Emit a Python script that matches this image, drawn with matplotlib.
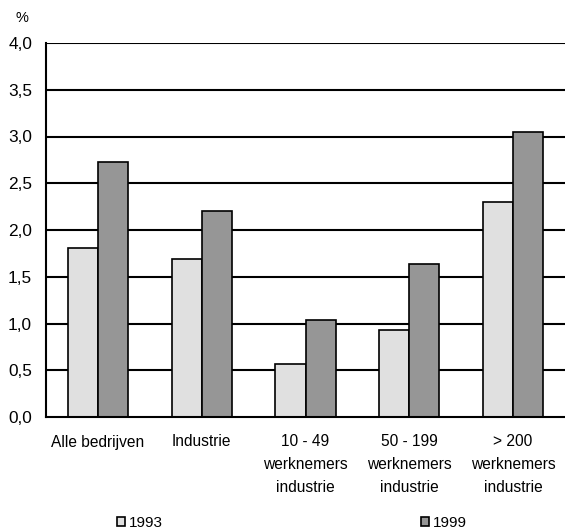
import matplotlib
matplotlib.use("Agg")
import matplotlib.pyplot as plt
import numpy as np

plt.rcParams['font.family'] = ['Liberation Sans', 'DejaVu Sans']

categories = ["Alle bedrijven", "Industrie", "10 - 49\nwerknemers\nindustrie",
              "50 - 199\nwerknemers\nindustrie", "> 200\nwerknemers\nindustrie"]
series_names = ["1993", "1999"]
values_1993 = [1.81, 1.69, 0.57, 0.93, 2.30]
values_1999 = [2.73, 2.20, 1.04, 1.64, 3.05]
y_ticks = [0.0, 0.5, 1.0, 1.5, 2.0, 2.5, 3.0, 3.5, 4.0]
y_tick_labels = ["0,0", "0,5", "1,0", "1,5", "2,0", "2,5", "3,0", "3,5", "4,0"]

W, H = 565, 529
fig = plt.figure(figsize=(W / 100, H / 100), dpi=100)
ax = fig.add_axes([46 / W, (H - 417) / H, (W - 46) / W + 0.01, 374 / H])

x = np.arange(len(categories))
bw = 0.29
b1 = ax.bar(x - bw / 2, values_1993, bw, color="#e0e0e0", edgecolor="black",
            linewidth=1.2, zorder=3, label=series_names[0])
b2 = ax.bar(x + bw / 2, values_1999, bw, color="#969696", edgecolor="black",
            linewidth=1.2, zorder=3, label=series_names[1])

ax.set_ylim(0, 4.0)
ax.set_xlim(-0.5, 4.5 + 0.01 * W / 104)
ax.set_yticks(y_ticks)
ax.set_yticklabels(y_tick_labels, fontsize=12.4)
ax.set_xticks(x)
ax.set_xticklabels(categories, fontsize=11.2, linespacing=1.63)
ax.tick_params(axis="y", length=0, pad=10)
ax.tick_params(axis="x", length=0, pad=12.6)

for yv in y_ticks[1:]:
    ax.axhline(yv, color="black", linewidth=1.5, zorder=1)

for s in ["top", "right"]:
    ax.spines[s].set_visible(False)
ax.spines["left"].set_linewidth(1.5)
ax.spines["bottom"].set_linewidth(1.5)
ax.spines["bottom"].set_zorder(4)

fig.text(22 / W, 1 - 18 / H, "%", fontsize=10.5, ha="center", va="center")

fig.legend(handles=[b1, b2], labels=series_names, loc="center",
           bbox_to_anchor=(292 / W, 1 - 523 / H), ncol=2, frameon=False,
           fontsize=11, handlelength=0.55, handleheight=0.55, handletextpad=0.25,
           columnspacing=16.9, borderpad=0.0)

fig.savefig("out.png", dpi=100)
